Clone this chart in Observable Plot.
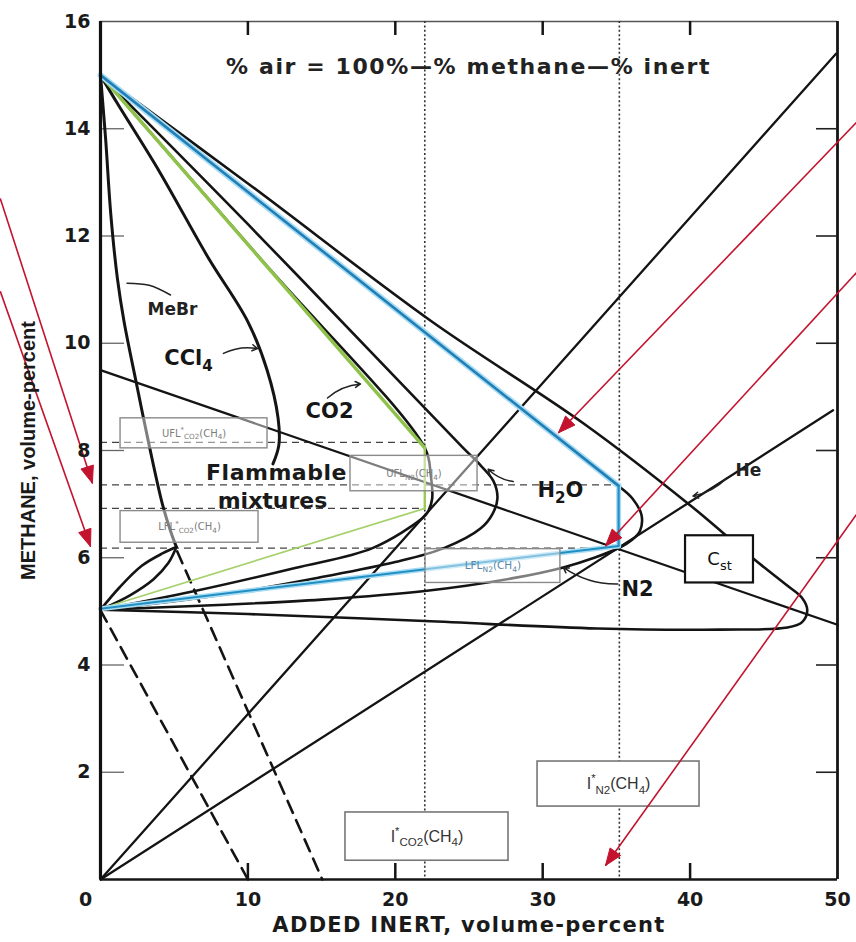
<!DOCTYPE html>
<html><head><meta charset="utf-8">
<script src="https://cdn.jsdelivr.net/npm/d3@7"></script>
<script src="https://cdn.jsdelivr.net/npm/@observablehq/plot@0.6"></script>
<style>body{margin:0;background:#fff} svg{display:block}</style>
</head><body><div id="chart"></div>
<script>
// ---------- data ----------
const xTickLabels = [10, 20, 30, 40, 50];
const originLabel = [0];
const yTickLabels = [2, 4, 6, 8, 10, 12, 14, 16];
const innerXTicks = [10, 20, 30, 40];
const innerYTicks = [2, 4, 6, 8, 10, 12, 14];
const dottedX = [22, 35.2];
const dashedLevels = [
  {y: 8.15, x2: 22}, {y: 7.36, x2: 35.2}, {y: 6.92, x2: 22}, {y: 6.18, x2: 35.2}
];
// envelopes (x = added inert %, y = methane %)
const envMeBrUpper = [[0,15],[0.35,13.8],[0.7,12.4],[1.15,11.2],[1.6,10.4],[2.4,9.3],[3.3,8.1],[4.2,7.0],[4.75,6.5],[5.15,6.2]];
const envMeBrLowerA = [[5.15,6.2],[4.2,6.08],[2.8,5.85],[1.3,5.45],[0,5.03]];
const envMeBrLowerB = [[5.15,6.2],[4.6,5.9],[3.6,5.6],[2,5.3],[0,5.03]];
const envCCl4 = [[0,15],[1.15,14.47],[4,13.2],[7.3,11.6],[10,10.4],[11.3,9.5],[12.05,8.6],[12.1,8.1],[11.7,7.75]];
const envCO2 = [[0,15],[11,11.53],[22,8.05],[22.4,7.55],[22.5,7.1],[22.2,6.85],[21.85,6.74],[18.45,6.18],[13.2,5.81],[6.4,5.38],[0,5.03]];
const envH2O = [[0,15],[10,12.22],[20.15,9.32],[24.6,8.05],[25.8,7.72],[26.66,7.43],[26.93,7.11],[26.6,6.82],[25.8,6.55],[23.3,6.18],[20,5.92],[15,5.64],[8,5.3],[0,5.03]];
const envN2 = [[0,15],[17.5,11.19],[35.15,7.34],[36.1,7.1],[36.7,6.8],[36.6,6.5],[36.0,6.32],[35.3,6.2],[33.5,6.0],[31.4,5.82],[28,5.62],[22,5.38],[15,5.22],[8,5.12],[0,5.03]];
const envHe = [[0,15],[10,12.98],[22.4,10.42],[32.8,8.5],[40,6.98],[44.3,5.98],[46.5,5.5],[47.6,5.25],[47.95,5.02],[47.6,4.8],[46.6,4.7],[42,4.66],[33.7,4.68],[22,4.82],[10,4.95],[0,5.03]];
const lineCst = [[0,9.5],[50,4.75]];
const lineOriginCO2 = [[0,0],[49.9,15.4]];
const lineOriginN2 = [[0,0],[49.7,8.75]];
const dashedA = [[0,5.02],[10,0]];
const dashedB = [[5.2,6.12],[15.05,0]];
// linearised envelopes
const greenUpper = [[0,15],[22,8.05]];
const greenVert = [[22,8.05],[22,6.92]];
const greenLower = [[22,6.92],[0,5.05]];
const blueUpper = [[0,15],[35.15,7.34]];
const blueVert = [[35.15,7.34],[35.15,6.22]];
const blueLower = [[35.15,6.22],[0,5.05]];
// boxes
const faintBoxes = [
  {x1:1.36,x2:11.33,y1:8.04,y2:8.60,label:"UFL^{*}_{CO2}(CH_{4})"},
  {x1:1.36,x2:10.72,y1:6.28,y2:6.87,label:"LFL^{*}_{CO2}(CH_{4})"},
  {x1:16.96,x2:25.58,y1:7.24,y2:7.90,label:"UFL_{N2}(CH_{4})"}
];
const blueTextBoxes = [{x1:22.05,x2:31.2,y1:5.53,y2:6.16,label:"LFL_{N2}(CH_{4})"}];
const solidBoxes = [{x1:39.69,x2:44.3,y1:5.53,y2:6.41,label:"C_{st}"}];
const grayBoxes = [
  {x1:29.65,x2:40.64,y1:1.36,y2:2.20,label:"I^{*}_{N2}(CH_{4})"},
  {x1:16.62,x2:27.68,y1:0.35,y2:1.25,label:"I^{*}_{CO2}(CH_{4})"}
];
// curve labels
const bigLabels = [
  {x:5.97,y:9.72,text:"CCl_{4}"},
  {x:15.54,y:8.73,text:"CO2"},
  {x:31.2,y:7.26,text:"H_{2}O"},
  {x:36.43,y:5.42,text:"N2"}
];
const smallLabels = [{x:4.88,y:10.63,text:"MeBr"},{x:43.96,y:7.62,text:"He"}];
const regionLabels = [{x:11.94,y:7.58,text:"Flammable"},{x:11.67,y:7.06,text:"mixtures"}];
const titleLabel = [{x:24.97,y:15.16,text:"% air = 100%—% methane—% inert"}];
// leaders
const leaderMeBr = [[1.8,11.12],[3.3,11.08],[4.75,10.9]];
const leaderArrows = [
  {x1:8.34,y1:9.81,x2:10.65,y2:9.9},
  {x1:15.4,y1:8.98,x2:17.64,y2:9.24},
  {x1:28.0,y1:7.42,x2:26.3,y2:7.65},
  {x1:35.1,y1:5.51,x2:31.4,y2:5.82},
  {x1:42.5,y1:7.49,x2:40.2,y2:7.15}
];
// red annotation arrows
const redArrows = [
  {x1:-6.8,y1:12.70,x2:-0.55,y2:7.39},
  {x1:-6.8,y1:10.97,x2:-0.68,y2:6.21},
  {x1:51.4,y1:14.15,x2:31.07,y2:8.33},
  {x1:51.4,y1:11.35,x2:34.26,y2:6.22},
  {x1:51.4,y1:6.85,x2:34.26,y2:0.26}
];

// ---------- layout ----------
const W = 856, H = 942, ML = 100, MR = 19, MT = 21, MB = 63;
const PW = W - ML - MR, PH = H - MT - MB;
const kx = PW / 50, ky = PH / 16;
const RED = "#c3132f";

// arrowheads (triangles) from red arrows, computed in pixel space then mapped back
const heads = [];
redArrows.forEach((a, i) => {
  const dxp = (a.x2 - a.x1) * kx, dyp = -(a.y2 - a.y1) * ky;
  const len = Math.hypot(dxp, dyp), ux = dxp / len, uy = dyp / len;
  const L = 17, hw = 6.5;
  const bx = -ux * L, by = -uy * L;
  const pts = [[0,0],[bx - uy*hw, by + ux*hw],[bx + uy*hw, by - ux*hw],[0,0]];
  pts.forEach(p => heads.push({id: i, x: a.x2 + p[0] / kx, y: a.y2 - p[1] / ky}));
});

const X = d => d[0], Y = d => d[1];
const curve = (data, o = {}) => Plot.line(data, {x: X, y: Y, stroke: "#141414", strokeWidth: 2.6, curve: "catmull-rom", ...o});
const straight = (data, o = {}) => Plot.line(data, {x: X, y: Y, stroke: "#141414", strokeWidth: 2.3, ...o});
const boxText = (data, o) => Plot.text(data, {x: d => (d.x1 + d.x2) / 2, y: d => (d.y1 + d.y2) / 2, text: "label", ...o});
const tickFont = {fontSize: 19, fontWeight: "bold", fill: "#1a1a1a"};

const chart = Plot.plot({
  width: W, height: H,
  marginLeft: ML, marginRight: MR, marginTop: MT, marginBottom: MB,
  x: {domain: [0, 50], axis: null},
  y: {domain: [0, 16], axis: null},
  style: {background: "#fff", fontFamily: "DejaVu Sans"},
  marks: [
    // frame
    Plot.ruleY([16], {stroke: "#555", strokeWidth: 1.6}),
    Plot.ruleY([0], {stroke: "#151515", strokeWidth: 2.4}),
    Plot.ruleX([50], {stroke: "#151515", strokeWidth: 2.8}),
    // inner ticks
    Plot.ruleX(innerXTicks, {stroke: "#151515", strokeWidth: 2.5, insetTop: PH - 16}),
    Plot.ruleX(innerXTicks, {stroke: "#151515", strokeWidth: 2.5, insetBottom: PH - 14}),
    Plot.ruleY(innerYTicks, {stroke: "#222", strokeWidth: 1.6, insetLeft: PW - 21}),
    Plot.ruleY(innerYTicks, {stroke: "#666", strokeWidth: 1.3, insetRight: PW - 24}),
    // reference lines
    Plot.ruleX(dottedX, {stroke: "#333", strokeWidth: 1.6, strokeDasharray: "2,2.4"}),
    Plot.ruleY(dashedLevels, {y: "y", x1: 0, x2: "x2", stroke: "#444", strokeWidth: 1.3, strokeDasharray: "7,5"}),
    // straight lines
    straight(lineCst),
    straight(lineOriginCO2),
    straight(lineOriginN2),
    straight(dashedA, {strokeDasharray: "13,8", strokeWidth: 2.6}),
    straight(dashedB, {strokeDasharray: "13,8", strokeWidth: 2.6}),
    // flammability envelopes
    curve(envMeBrUpper, {strokeWidth: 3}),
    curve(envMeBrLowerA),
    curve(envMeBrLowerB),
    curve(envCCl4, {strokeWidth: 3}),
    curve(envCO2),
    curve(envH2O),
    curve(envN2),
    curve(envHe),
    // linearised CO2 (green) and N2 (blue)
    straight(greenUpper, {stroke: "#8fc24a", strokeWidth: 3.4}),
    straight(greenVert, {stroke: "#9cc95a", strokeWidth: 2.4}),
    straight(greenLower, {stroke: "#a5d06a", strokeWidth: 1.7}),
    straight(blueUpper, {stroke: "#a9dcf2", strokeWidth: 6}),
    straight(blueVert, {stroke: "#a9dcf2", strokeWidth: 5}),
    straight(blueLower, {stroke: "#a9dcf2", strokeWidth: 5}),
    straight(blueUpper, {stroke: "#1f7fb6", strokeWidth: 2.6}),
    straight(blueVert, {stroke: "#1f8fc4", strokeWidth: 2.2}),
    straight(blueLower, {stroke: "#1f8fc4", strokeWidth: 2}),
    // left axis (thick)
    Plot.ruleX([0], {stroke: "#111", strokeWidth: 3.2}),
    // boxes
    Plot.rect(faintBoxes, {x1: "x1", x2: "x2", y1: "y1", y2: "y2", fill: "#fff", fillOpacity: 0.45, stroke: "#8a8a8a", strokeWidth: 1.4}),
    Plot.rect(blueTextBoxes, {x1: "x1", x2: "x2", y1: "y1", y2: "y2", fill: "#fff", fillOpacity: 0.45, stroke: "#8a8a8a", strokeWidth: 1.4}),
    Plot.rect(solidBoxes, {x1: "x1", x2: "x2", y1: "y1", y2: "y2", fill: "#fff", stroke: "#111", strokeWidth: 2.2}),
    Plot.rect(grayBoxes, {x1: "x1", x2: "x2", y1: "y1", y2: "y2", fill: "#fff", stroke: "#777", strokeWidth: 1.6}),
    boxText(faintBoxes, {fontSize: 10, fill: "#7d7d7d"}),
    boxText(blueTextBoxes, {fontSize: 10.5, fill: "#5a86a8"}),
    boxText(solidBoxes, {fontSize: 18, fill: "#111"}),
    boxText(grayBoxes, {fontSize: 16, fill: "#333", fontFamily: "Liberation Sans"}),
    // leaders
    Plot.line(leaderMeBr, {x: X, y: Y, stroke: "#222", strokeWidth: 1.5, curve: "catmull-rom"}),
    Plot.arrow(leaderArrows, {x1: "x1", y1: "y1", x2: "x2", y2: "y2", bend: 18, stroke: "#222", strokeWidth: 1.5, headLength: 6}),
    // labels
    Plot.text(bigLabels, {x: "x", y: "y", text: "text", fontSize: 21, fontWeight: "bold", fill: "#161616"}),
    Plot.text(smallLabels, {x: "x", y: "y", text: "text", fontSize: 17, fontWeight: "bold", fill: "#222"}),
    Plot.text(regionLabels, {x: "x", y: "y", text: "text", fontSize: 22, fontWeight: "bold", fill: "#1a1a1a"}),
    Plot.text(titleLabel, {x: "x", y: "y", text: "text", fontSize: 22, fontWeight: "bold", fill: "#222"}),
    // red annotation arrows
    Plot.link(redArrows, {x1: "x1", y1: "y1", x2: "x2", y2: "y2", stroke: RED, strokeWidth: 1.6}),
    Plot.line(heads, {x: "x", y: "y", z: "id", fill: RED, stroke: RED, strokeWidth: 1}),
    // tick labels
    Plot.text(xTickLabels, {x: d => d, frameAnchor: "bottom", lineAnchor: "middle", textAnchor: "middle", dy: 20, text: d => String(d), ...tickFont}),
    Plot.text(originLabel, {x: d => d, frameAnchor: "bottom", lineAnchor: "middle", textAnchor: "middle", dy: 20, dx: -15, text: d => String(d), ...tickFont}),
    Plot.text(yTickLabels, {y: d => d, frameAnchor: "left", lineAnchor: "middle", dx: -10, textAnchor: "end", text: d => String(d), ...tickFont}),
    // axis titles
    Plot.text(["ADDED INERT, volume-percent"], {frameAnchor: "bottom", lineAnchor: "middle", textAnchor: "middle", dy: 46, text: d => d, fontSize: 21, fontWeight: "bold", fill: "#1a1a1a"}),
    Plot.text(["METHANE, volume-percent"], {frameAnchor: "left", lineAnchor: "middle", textAnchor: "middle", dx: -72, rotate: -90, text: d => d, fontSize: 20, fontWeight: "bold", fontFamily: "Liberation Sans", fill: "#1a1a1a"})
  ]
});

// rich text: _{sub} and ^{sup}
function rich(svg) {
  svg.querySelectorAll("text").forEach(el => {
    const s = el.textContent;
    if (!/[_^]\{/.test(s)) return;
    const g = el.closest("[font-size]");
    const base = parseFloat(g ? g.getAttribute("font-size") : 10) || 10;
    while (el.firstChild) el.removeChild(el.firstChild);
    const re = /([_^])\{([^}]*)\}|([^_^]+)/g;
    let m, cur = 0;
    while ((m = re.exec(s))) {
      const t = document.createElementNS("http://www.w3.org/2000/svg", "tspan");
      let target = 0;
      if (m[1] === "_") { target = base * 0.28; t.setAttribute("font-size", base * 0.72); t.textContent = m[2]; }
      else if (m[1] === "^") { target = -base * 0.45; t.setAttribute("font-size", base * 0.7); t.textContent = m[2]; }
      else { t.textContent = m[3]; }
      if (target !== cur) { t.setAttribute("dy", target - cur); cur = target; }
      el.appendChild(t);
    }
  });
  const spacing = {"ADDED INERT, volume-percent": "1.3px", "% air = 100%—% methane—% inert": "1.6px", "Flammable": "0.5px"};
  svg.querySelectorAll("text").forEach(el => {
    const ls = spacing[el.textContent];
    if (ls) el.style.letterSpacing = ls;
  });
}
rich(chart);
document.getElementById("chart").appendChild(chart);
</script>
</body></html>
